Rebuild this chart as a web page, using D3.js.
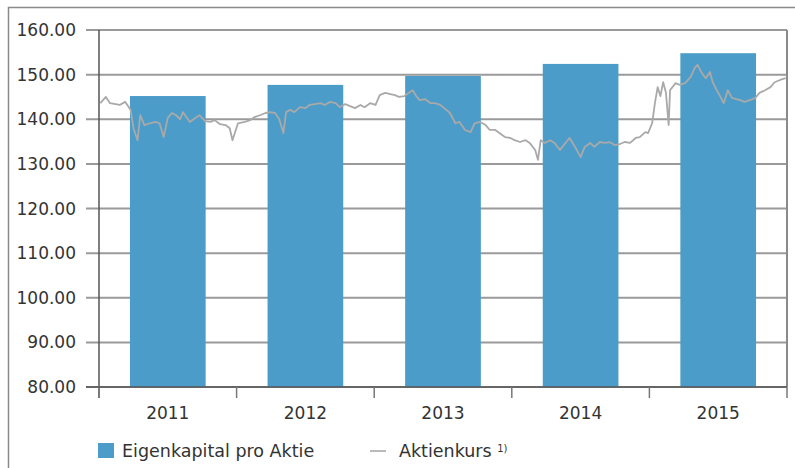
<!DOCTYPE html>
<html>
<head>
<meta charset="utf-8">
<script src="https://cdn.jsdelivr.net/npm/d3@7"></script>
<style>
  body { margin: 0; background: #fff; }
  text { font-family: "DejaVu Sans", Verdana, sans-serif; fill: #333; }
</style>
</head>
<body>
<div id="chart"></div>
<script>
const years = ["2011", "2012", "2013", "2014", "2015"];
const eigenkapital = [145.2, 147.7, 149.7, 152.4, 154.8];
const yTicks = [80, 90, 100, 110, 120, 130, 140, 150, 160];

// Aktienkurs: [Zeitpunkt als Jahr mit Nachkommastellen, Kurs]
const aktienkurs = [
  [2011.01, 143.6], [2011.05, 145.0], [2011.08, 143.6], [2011.12, 143.4], [2011.15, 143.2],
  [2011.19, 143.9], [2011.23, 142.1], [2011.25, 138.0], [2011.28, 135.3], [2011.30, 140.9],
  [2011.33, 138.7], [2011.37, 139.1], [2011.41, 139.4], [2011.44, 139.1], [2011.47, 136.0],
  [2011.50, 140.3], [2011.53, 141.4], [2011.56, 140.9], [2011.59, 140.0], [2011.61, 141.6],
  [2011.64, 140.3], [2011.66, 139.4], [2011.70, 140.3], [2011.73, 140.9], [2011.77, 139.6],
  [2011.81, 139.4], [2011.84, 139.8], [2011.88, 138.9], [2011.92, 138.7], [2011.95, 138.0],
  [2011.97, 135.3], [2012.01, 139.1], [2012.06, 139.4], [2012.10, 139.8], [2012.13, 140.5],
  [2012.17, 140.9], [2012.21, 141.4], [2012.24, 141.6], [2012.28, 141.4], [2012.31, 140.0],
  [2012.34, 136.9], [2012.36, 141.6], [2012.39, 142.1], [2012.42, 141.6], [2012.46, 142.7],
  [2012.50, 142.5], [2012.53, 143.2], [2012.57, 143.4], [2012.61, 143.6], [2012.64, 143.2],
  [2012.68, 143.9], [2012.72, 143.6], [2012.75, 142.7], [2012.79, 143.4], [2012.82, 143.0],
  [2012.86, 142.5], [2012.90, 143.2], [2012.93, 142.7], [2012.97, 143.6], [2013.01, 143.2],
  [2013.04, 145.4], [2013.08, 145.9], [2013.11, 145.7], [2013.15, 145.4], [2013.18, 145.0],
  [2013.22, 145.2], [2013.26, 146.1], [2013.28, 146.5], [2013.31, 145.0], [2013.33, 144.3],
  [2013.37, 144.5], [2013.41, 143.6], [2013.44, 143.6], [2013.48, 143.2], [2013.51, 142.5],
  [2013.55, 141.4], [2013.59, 139.1], [2013.62, 139.4], [2013.66, 137.6], [2013.70, 137.1],
  [2013.73, 139.1], [2013.77, 139.4], [2013.81, 138.7], [2013.84, 137.6], [2013.88, 137.6],
  [2013.91, 136.9], [2013.95, 136.0], [2013.99, 135.8], [2014.02, 135.3], [2014.06, 134.9],
  [2014.10, 135.3], [2014.13, 134.7], [2014.17, 133.1], [2014.19, 130.9], [2014.21, 135.3],
  [2014.24, 134.7], [2014.28, 135.3], [2014.31, 134.7], [2014.35, 133.1], [2014.39, 134.7],
  [2014.42, 135.8], [2014.46, 133.8], [2014.50, 131.5], [2014.53, 133.8], [2014.57, 134.7],
  [2014.60, 133.8], [2014.64, 134.9], [2014.68, 134.7], [2014.71, 134.9], [2014.75, 134.2],
  [2014.79, 134.5], [2014.82, 134.9], [2014.86, 134.7], [2014.90, 135.8], [2014.93, 136.0],
  [2014.97, 137.1], [2014.99, 136.9], [2015.02, 139.1], [2015.04, 143.6], [2015.06, 147.2],
  [2015.08, 145.2], [2015.10, 148.3], [2015.12, 146.0], [2015.14, 138.7], [2015.15, 146.5],
  [2015.19, 148.1], [2015.22, 147.7], [2015.26, 148.1], [2015.30, 149.5], [2015.33, 151.5],
  [2015.35, 152.2], [2015.38, 150.4], [2015.41, 149.2], [2015.44, 150.6], [2015.46, 148.3],
  [2015.49, 146.5], [2015.51, 145.4], [2015.54, 143.6], [2015.57, 146.5], [2015.60, 144.8],
  [2015.63, 144.5], [2015.66, 144.3], [2015.69, 143.9], [2015.73, 144.3], [2015.77, 144.8],
  [2015.80, 145.9], [2015.84, 146.5], [2015.88, 147.2], [2015.91, 148.3], [2015.95, 148.8],
  [2015.99, 149.2]
];

const MARGIN = { LEFT: 99, RIGHT: 8, TOP: 30, BOTTOM: 81 };
const WIDTH = 795 - MARGIN.LEFT - MARGIN.RIGHT;
const HEIGHT = 468 - MARGIN.TOP - MARGIN.BOTTOM;
const BAR_COLOR = "#4b9cc8";
const LINE_COLOR = "#a9a9a9";

const svg = d3.select("#chart").append("svg")
    .attr("width", 795)
    .attr("height", 468);

// outer frame (only left + top are inside the picture)
svg.append("path")
    .attr("d", "M8.5,468V7.5H795")
    .attr("fill", "none")
    .attr("stroke", "#8a8a8a")
    .attr("stroke-width", 1.5);

const g = svg.append("g")
    .attr("transform", `translate(${MARGIN.LEFT}, ${MARGIN.TOP})`);

const x = d3.scaleBand()
    .domain(years)
    .range([0, WIDTH])
    .paddingInner(0.45)
    .paddingOuter(0.225);

const xTime = d3.scaleLinear()
    .domain([2011, 2016])
    .range([0, WIDTH]);

const y = d3.scaleLinear()
    .domain([80, 160])
    .range([HEIGHT, 0]);

// grid lines + y labels
g.selectAll(".grid")
    .data(yTicks)
    .enter().append("line")
    .attr("class", "grid")
    .attr("x1", -13)
    .attr("x2", WIDTH)
    .attr("y1", d => y(d))
    .attr("y2", d => y(d))
    .attr("stroke", "#9a9a9a")
    .attr("stroke-width", 2);

g.selectAll(".ylabel")
    .data(yTicks)
    .enter().append("text")
    .attr("class", "ylabel")
    .attr("x", -23)
    .attr("y", d => y(d))
    .attr("dy", "0.36em")
    .attr("text-anchor", "end")
    .style("font-size", "17px")
    .text(d => d3.format(".2f")(d));

// right border
g.append("line")
    .attr("x1", WIDTH).attr("x2", WIDTH)
    .attr("y1", 0).attr("y2", HEIGHT)
    .attr("stroke", "#8a8a8a")
    .attr("stroke-width", 2);

// bars
g.selectAll(".bar")
    .data(eigenkapital)
    .enter().append("rect")
    .attr("class", "bar")
    .attr("x", (d, i) => x(years[i]))
    .attr("width", x.bandwidth())
    .attr("y", d => y(d))
    .attr("height", d => HEIGHT - y(d))
    .attr("fill", BAR_COLOR);

// share price line
const line = d3.line()
    .x(d => xTime(d[0]))
    .y(d => y(d[1]));

g.append("path")
    .datum(aktienkurs)
    .attr("d", line)
    .attr("fill", "none")
    .attr("stroke", LINE_COLOR)
    .attr("stroke-width", 1.8)
    .attr("stroke-linejoin", "round");

// axes
g.append("line")
    .attr("x1", 0).attr("x2", 0)
    .attr("y1", 0).attr("y2", HEIGHT + 11)
    .attr("stroke", "#555")
    .attr("stroke-width", 1.5);

g.append("line")
    .attr("x1", -13).attr("x2", WIDTH)
    .attr("y1", HEIGHT).attr("y2", HEIGHT)
    .attr("stroke", "#555")
    .attr("stroke-width", 1.5);

g.selectAll(".xtick")
    .data(d3.range(years.length + 1))
    .enter().append("line")
    .attr("class", "xtick")
    .attr("x1", i => i * x.step())
    .attr("x2", i => i * x.step())
    .attr("y1", HEIGHT)
    .attr("y2", HEIGHT + 11)
    .attr("stroke", "#777")
    .attr("stroke-width", 1.5);

g.selectAll(".xlabel")
    .data(years)
    .enter().append("text")
    .attr("class", "xlabel")
    .attr("x", d => x(d) + x.bandwidth() / 2)
    .attr("y", HEIGHT + 26)
    .attr("dy", "0.36em")
    .attr("text-anchor", "middle")
    .style("font-size", "17px")
    .text(d => d);

// legend
const legend = svg.append("g")
    .attr("transform", "translate(98, 451)");

legend.append("rect")
    .attr("x", 0).attr("y", -8)
    .attr("width", 16).attr("height", 15)
    .attr("fill", BAR_COLOR);

legend.append("text")
    .attr("x", 24).attr("dy", "0.36em")
    .style("font-size", "17.5px")
    .text("Eigenkapital pro Aktie");

legend.append("line")
    .attr("x1", 272).attr("x2", 288)
    .attr("y1", 0).attr("y2", 0)
    .attr("stroke", LINE_COLOR)
    .attr("stroke-width", 1.6);

const lt = legend.append("text")
    .attr("x", 301).attr("dy", "0.36em")
    .style("font-size", "17.5px")
    .text("Aktienkurs ");

lt.append("tspan")
    .attr("dy", "-0.5em")
    .style("font-size", "10px")
    .text("1)");
</script>
</body>
</html>
